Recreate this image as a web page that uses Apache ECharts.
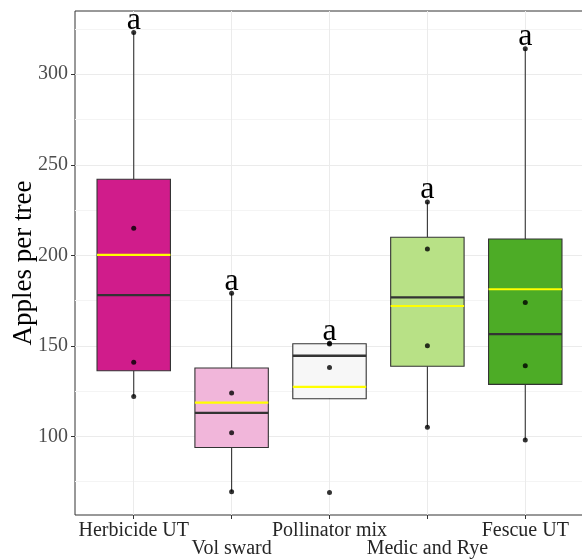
<!DOCTYPE html>
<html>
<head>
<meta charset="utf-8">
<script src="https://cdn.jsdelivr.net/npm/echarts@6/dist/echarts.min.js"></script>
<style>
  html, body { margin: 0; padding: 0; background: #ffffff; }
  #chart { width: 582px; height: 559px; }
</style>
</head>
<body>
<div id="chart"></div>
<script>
// Apples per tree under five orchard floor treatments (four trees each)
const categories = ['Herbicide UT', 'Vol sward', 'Pollinator mix', 'Medic and Rye', 'Fescue UT'];
const herbicideUT   = [323, 215, 141, 122];
const volSward      = [179, 124, 102, 69.5];
const pollinatorMix = [151.5, 151, 138, 69];
const medicAndRye   = [229.5, 203.5, 150, 105];
const fescueUT      = [314, 174, 139, 98];
const groupLetters  = ['a', 'a', 'a', 'a', 'a'];
const yTicks        = [100, 150, 200, 250, 300];
const fillColors    = ['#d01c8b', '#f1b6da', '#f7f7f7', '#b8e186', '#4dac26'];

const groups = [herbicideUT, volSward, pollinatorMix, medicAndRye, fescueUT];
const SERIF = '"Liberation Serif", "DejaVu Serif", serif';

// Category positions; labels alternate between two rows
const catPositions = categories.map((c, i) => i);
const upperRow = catPositions.filter(i => i % 2 === 0);
const lowerRow = catPositions.filter(i => i % 2 === 1);

// Quantile (linear interpolation between order statistics)
function quantile(sorted, p) {
  const h = (sorted.length - 1) * p;
  const lo = Math.floor(h);
  const hi = Math.min(lo + 1, sorted.length - 1);
  return sorted[lo] + (h - lo) * (sorted[hi] - sorted[lo]);
}

// Box statistics: [index, whiskerLow, q1, median, q3, whiskerHigh, mean]
const boxData = groups.map((vals, i) => {
  const s = vals.slice().sort((a, b) => a - b);
  const q1 = quantile(s, 0.25), med = quantile(s, 0.5), q3 = quantile(s, 0.75);
  const iqr = q3 - q1;
  const inside = s.filter(v => v >= q1 - 1.5 * iqr && v <= q3 + 1.5 * iqr);
  const mean = s.reduce((a, b) => a + b, 0) / s.length;
  return [i, Math.min(...inside), q1, med, q3, Math.max(...inside), mean];
});

const pointData = [];
groups.forEach((vals, i) => vals.forEach(v => pointData.push([i, v])));

const letterData = groups.map((vals, i) => [i, Math.max(...vals), groupLetters[i]]);

function renderBox(params, api) {
  const i = api.value(0);
  const half = api.size([0.75, 0])[0] / 2;
  const lo = api.coord([i, api.value(1)]);
  const q1 = api.coord([i, api.value(2)]);
  const md = api.coord([i, api.value(3)]);
  const q3 = api.coord([i, api.value(4)]);
  const hi = api.coord([i, api.value(5)]);
  const mn = api.coord([i, api.value(6)]);
  const x = lo[0];
  const edge = '#333333';
  return {
    type: 'group',
    children: [
      { type: 'line', shape: { x1: x, y1: q3[1], x2: x, y2: hi[1] }, style: { stroke: edge, lineWidth: 1.1 } },
      { type: 'line', shape: { x1: x, y1: q1[1], x2: x, y2: lo[1] }, style: { stroke: edge, lineWidth: 1.1 } },
      { type: 'rect', shape: { x: x - half, y: q3[1], width: 2 * half, height: q1[1] - q3[1] },
        style: { fill: fillColors[params.dataIndex], stroke: edge, lineWidth: 1.1 } },
      { type: 'line', shape: { x1: x - half, y1: md[1], x2: x + half, y2: md[1] }, style: { stroke: edge, lineWidth: 2.4 } },
      { type: 'line', shape: { x1: x - half, y1: mn[1], x2: x + half, y2: mn[1] }, style: { stroke: '#ffff00', lineWidth: 2.2 } }
    ]
  };
}

function renderLetter(params, api) {
  const p = api.coord([api.value(0), api.value(1)]);
  return {
    type: 'text',
    x: p[0],
    y: p[1] + 4,
    style: {
      text: String(letterData[params.dataIndex][2]),
      fontFamily: SERIF,
      fontSize: 32,
      fill: '#000000',
      align: 'center',
      verticalAlign: 'bottom'
    }
  };
}

const catLabel = (values, margin) => ({
  customValues: values,
  showMinLabel: true, showMaxLabel: true, hideOverlap: false,
  margin: margin,
  fontFamily: SERIF, fontSize: 20, color: '#262626',
  formatter: v => categories[Math.round(v)]
});

const chart = echarts.init(document.getElementById('chart'), null, { renderer: 'canvas' });
chart.setOption({
  animation: false,
  backgroundColor: '#ffffff',
  grid: {
    left: 75, top: 11, width: 509, height: 504,
    outerBoundsMode: 'none',
    containLabel: false,
    show: true, borderColor: '#333333', borderWidth: 1, backgroundColor: 'transparent'
  },
  xAxis: [
    {
      type: 'value',
      min: -0.6, max: 4.6,
      position: 'bottom',
      axisLine: { show: false, onZero: false },
      axisTick: { show: true, customValues: catPositions, length: 4, lineStyle: { color: '#333333' } },
      axisLabel: catLabel(upperRow, 6),
      splitLine: { show: true, lineStyle: { color: '#ebebeb', width: 1 } }
    },
    {
      type: 'value',
      min: -0.6, max: 4.6,
      position: 'bottom',
      offset: 0,
      axisLine: { show: false, onZero: false },
      axisTick: { show: false },
      axisLabel: catLabel(lowerRow, 24),
      splitLine: { show: false }
    }
  ],
  yAxis: {
    type: 'value',
    min: 56.6, max: 334.9,
    name: 'Apples per tree',
    nameLocation: 'middle',
    nameRotate: 90,
    nameGap: 38,
    nameMoveOverlap: false,
    nameTextStyle: { fontFamily: SERIF, fontSize: 27, color: '#000000' },
    axisLine: { show: false, onZero: false },
    axisTick: { show: true, customValues: yTicks, length: 4, lineStyle: { color: '#333333' } },
    axisLabel: { customValues: yTicks, margin: 7, fontFamily: SERIF, fontSize: 20, color: '#4d4d4d' },
    splitLine: { show: true, lineStyle: { color: '#ebebeb', width: 1 } },
    minorTick: { show: false, splitNumber: 2 },
    minorSplitLine: { show: true, lineStyle: { color: '#f4f4f4', width: 1 } }
  },
  series: [
    {
      type: 'custom',
      name: 'boxes',
      renderItem: renderBox,
      data: boxData,
      encode: { x: 0, y: [1, 2, 3, 4, 5, 6] },
      z: 2
    },
    {
      type: 'scatter',
      name: 'trees',
      data: pointData,
      symbol: 'circle',
      symbolSize: 5,
      itemStyle: { color: '#000000' },
      z: 3
    },
    {
      type: 'custom',
      name: 'letters',
      renderItem: renderLetter,
      data: letterData.map(d => [d[0], d[1]]),
      encode: { x: 0, y: 1 },
      clip: false,
      z: 4
    }
  ]
});
</script>
</body>
</html>
